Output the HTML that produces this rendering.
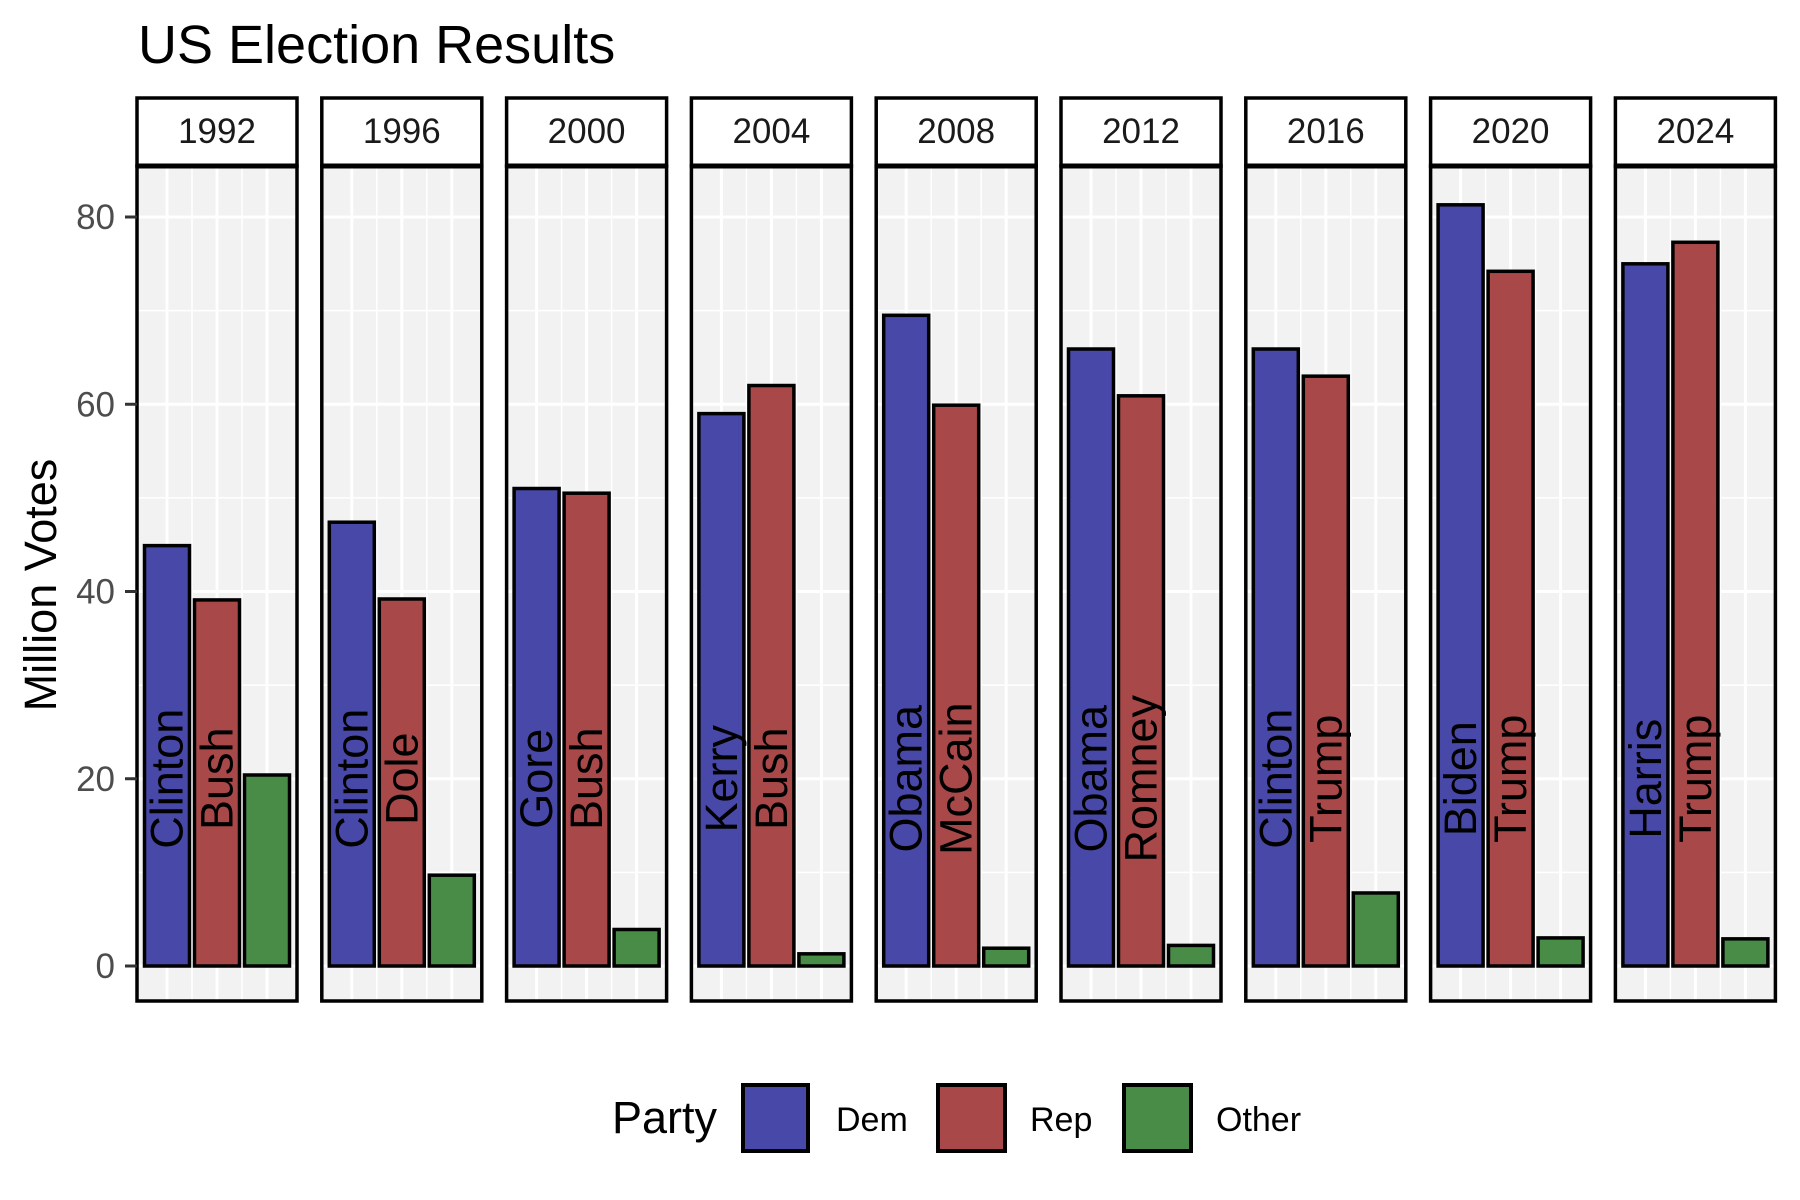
<!DOCTYPE html>
<html><head><meta charset="utf-8"><style>
html,body{margin:0;padding:0;background:#fff;}
svg{display:block;font-family:"Liberation Sans",Arial,sans-serif;}
</style></head><body>
<svg id="chart" width="1800" height="1200" viewBox="0 0 1800 1200">
<text x="138" y="63" font-size="54" fill="#000">US Election Results</text>
<text transform="translate(56,585) rotate(-90)" text-anchor="middle" font-size="45" fill="#000">Million Votes</text>
<g id="panels"></g>
<g id="yaxis"></g>
<g>
<text x="612" y="1133" font-size="45" fill="#000">Party</text>
<rect x="743" y="1085" width="65" height="66" fill="#4848a8" stroke="#000" stroke-width="4"/>
<text x="836" y="1131" font-size="34" fill="#000">Dem</text>
<rect x="938" y="1085" width="67" height="66" fill="#a84848" stroke="#000" stroke-width="4"/>
<text x="1030" y="1131" font-size="34" fill="#000">Rep</text>
<rect x="1124" y="1085" width="67" height="66" fill="#488c48" stroke="#000" stroke-width="4"/>
<text x="1216" y="1131" font-size="34" fill="#000">Other</text>
</g>
</svg>
<script>
const years = ["1992","1996","2000","2004","2008","2012","2016","2020","2024"];
const demVotes = [44.9, 47.4, 51.0, 59.0, 69.5, 65.9, 65.9, 81.3, 75.0];
const repVotes = [39.1, 39.2, 50.5, 62.0, 59.9, 60.9, 63.0, 74.2, 77.3];
const otherVotes = [20.4, 9.7, 3.9, 1.3, 1.9, 2.2, 7.8, 3.0, 2.9];
const demNames = ["Clinton","Clinton","Gore","Kerry","Obama","Obama","Clinton","Biden","Harris"];
const repNames = ["Bush","Dole","Bush","Bush","McCain","Romney","Trump","Trump","Trump"];
const yTicks = [0, 20, 40, 60, 80];
const yMinor = [10, 30, 50, 70];
const labelValue = 20;

const NS = "http://www.w3.org/2000/svg";
const panelLeft0 = 137, panelStep = 184.8, panelW = 160;
const stripTop = 98, panelTop = 166, panelBottom = 1001;
function yScale(v){ return 966 - v * (749/80); }
function xScale(panelIdx, cat){ return panelLeft0 + panelIdx*panelStep + (cat - 0.4) * (panelW/3.2); }
function mk(tag, attrs, parent){
  const el = document.createElementNS(NS, tag);
  for (const k in attrs) el.setAttribute(k, attrs[k]);
  parent.appendChild(el); return el;
}
const panels = document.getElementById("panels");
const colors = ["#4848a8","#a84848","#488c48"];
const seriesNames = ["dem","rep","other"];
years.forEach((yr, i) => {
  const left = panelLeft0 + i*panelStep;
  const g = mk("g", {}, panels);
  
  
  const bg = mk("rect", {x:left, y:panelTop, width:panelW, height:panelBottom-panelTop, fill:"#f2f2f2"}, g);
  
  
  yMinor.forEach(v => {
    const l = mk("line", {x1:left, x2:left+panelW, y1:yScale(v), y2:yScale(v), stroke:"#fff", "stroke-width":1.5}, g);
    
    
  });
  yTicks.forEach(v => {
    const l = mk("line", {x1:left, x2:left+panelW, y1:yScale(v), y2:yScale(v), stroke:"#fff", "stroke-width":3}, g);
    
    
  });
  [1.5, 2.5].forEach(c => {
    const l = mk("line", {x1:xScale(i,c), x2:xScale(i,c), y1:panelTop, y2:panelBottom, stroke:"#fff", "stroke-width":1.5}, g);
    
    
  });
  [1,2,3].forEach(c => {
    const l = mk("line", {x1:xScale(i,c), x2:xScale(i,c), y1:panelTop, y2:panelBottom, stroke:"#fff", "stroke-width":3}, g);
    
    
  });
  const vals = [demVotes[i], repVotes[i], otherVotes[i]];
  vals.forEach((v, k) => {
    const c = k + 1;
    const x0 = xScale(i, c - 0.45), x1 = xScale(i, c + 0.45);
    const r = mk("rect", {x:x0, y:yScale(v), width:x1-x0, height:yScale(0)-yScale(v), fill:colors[k], stroke:"#000", "stroke-width":3.5}, g);
    
    
  });
  [demNames[i], repNames[i]].forEach((nm, k) => {
    const cx = xScale(i, k + 1), cy = yScale(labelValue);
    const t = mk("text", {transform:`translate(${cx},${cy}) rotate(-90)`, "text-anchor":"middle", "dominant-baseline":"central", "font-size":45, fill:"#000"}, g);
    t.textContent = nm;
    
    
  });
  const border = mk("rect", {x:left, y:panelTop, width:panelW, height:panelBottom-panelTop, fill:"none", stroke:"#000", "stroke-width":3.5}, g);
  
  
  const strip = mk("rect", {x:left, y:stripTop, width:panelW, height:panelTop-stripTop, fill:"#fff", stroke:"#000", "stroke-width":3.5}, g);
  
  
  const sep = mk("line", {x1:left, x2:left+panelW, y1:panelTop, y2:panelTop, stroke:"#000", "stroke-width":5}, g);
  
  
  const st = mk("text", {x:left+panelW/2, y:143, "text-anchor":"middle", "font-size":35, fill:"#1a1a1a"}, g);
  st.textContent = yr;
  
  
});
const yaxis = document.getElementById("yaxis");
yTicks.forEach(v => {
  const tk = mk("line", {x1:125, x2:137, y1:yScale(v), y2:yScale(v), stroke:"#333", "stroke-width":3}, yaxis);
  
  
  const t = mk("text", {x:115, y:yScale(v)+12, "text-anchor":"end", "font-size":35, fill:"#4d4d4d"}, yaxis);
  t.textContent = String(v);
  
  
});
</script>
</body></html>
